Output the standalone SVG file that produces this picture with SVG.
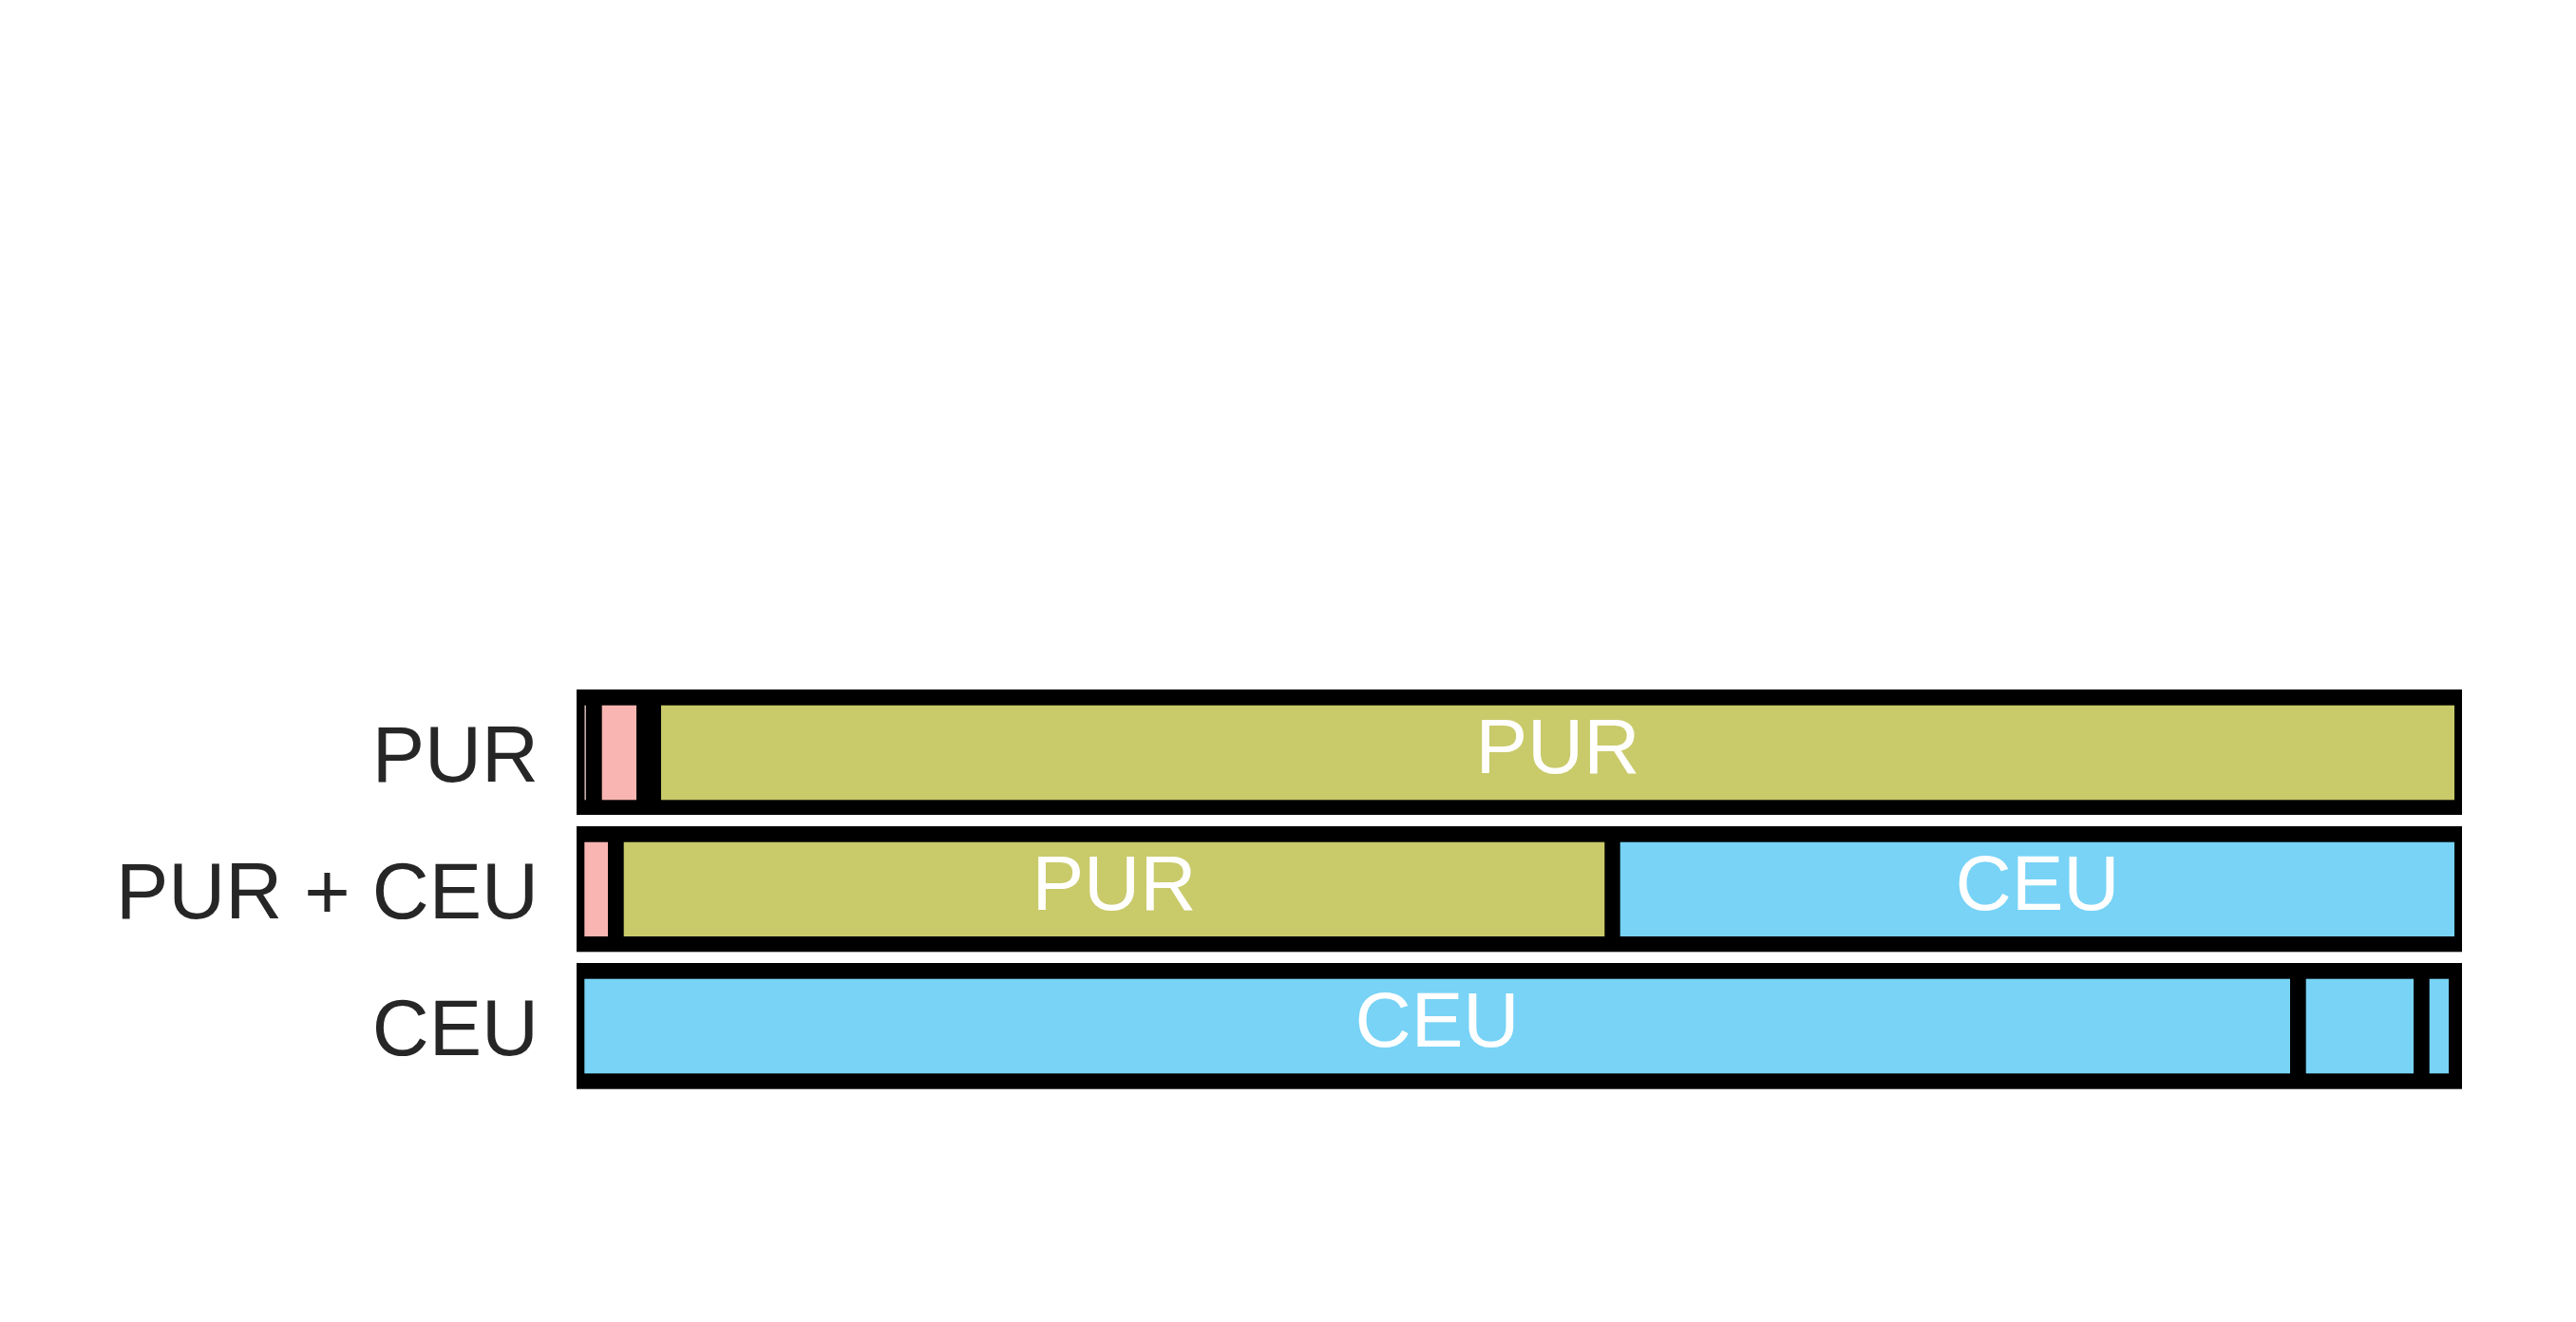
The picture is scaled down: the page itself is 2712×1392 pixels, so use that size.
<svg xmlns="http://www.w3.org/2000/svg" width="2712" height="1392" viewBox="0 0 2712 1392">
<style>
.frame{fill:#000000}
.pink{fill:#F8B5B1}
.green{fill:#C9CA6A}
.blue{fill:#78D3F6}
.lbl{font-family:"Liberation Sans",Arial,sans-serif;font-size:83px;fill:#262626;text-anchor:end}
.seg{font-family:"Liberation Sans",Arial,sans-serif;font-size:82px;fill:#FFFFFF;text-anchor:middle}
</style>
<rect width="2712" height="1392" fill="#FFFFFF"/>
<g id="labels">
<text class="lbl" x="567" y="822.7">PUR</text>
<text class="lbl" x="567" y="966.7">PUR + CEU</text>
<text class="lbl" x="567" y="1110.7">CEU</text>
</g>
<g id="row-pur">
<rect class="frame" x="607" y="726" width="1985" height="132"/>
<rect x="615.5" y="742.7" width="1.3" height="99.6" fill="#F2D4D2"/>
<rect class="pink" x="633.7" y="742.7" width="36.3" height="99.6"/>
<rect class="green" x="696" y="742.7" width="1888" height="99.6"/>
<text class="seg" x="1640" y="814">PUR</text>
</g>
<g id="row-pur-ceu">
<rect class="frame" x="607" y="870" width="1985" height="132.3"/>
<rect class="pink" x="615.3" y="886.7" width="24.7" height="99.3"/>
<rect class="green" x="656.7" y="886.7" width="1032.6" height="99.3"/>
<rect class="blue" x="1705.7" y="886.7" width="878.3" height="99.3"/>
<text class="seg" x="1173" y="957.5">PUR</text>
<text class="seg" x="2145" y="957.5">CEU</text>
</g>
<g id="row-ceu">
<rect class="frame" x="607" y="1014" width="1985" height="132.7"/>
<rect class="blue" x="615.3" y="1030.7" width="1795.7" height="99.6"/>
<rect class="blue" x="2427.7" y="1030.7" width="113.3" height="99.6"/>
<rect class="blue" x="2557.7" y="1030.7" width="20.3" height="99.6"/>
<text class="seg" x="1513" y="1101.5">CEU</text>
</g>
<g id="connectors"></g>
</svg>
